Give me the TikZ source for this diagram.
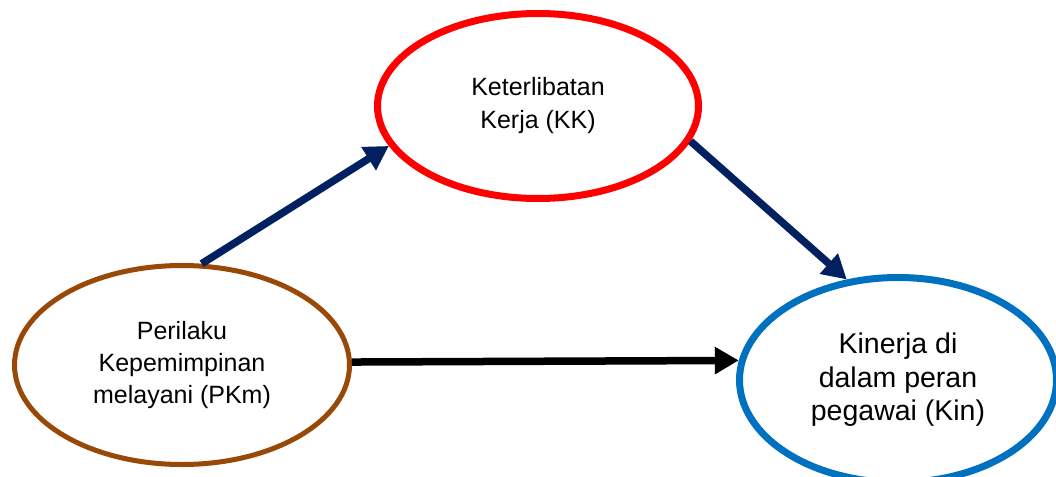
\documentclass[tikz,border=0pt]{standalone}
\usepackage{fontspec}
\setmainfont{Liberation Sans}
\usetikzlibrary{shapes.geometric,arrows.meta}
\definecolor{cbrown}{HTML}{984807}
\definecolor{cred}{HTML}{FF0000}
\definecolor{cblue}{HTML}{0070C0}
\definecolor{cnavy}{HTML}{002060}
\tikzset{
  oval/.style={ellipse, draw, fill=white, inner sep=0pt, align=center, text=black},
  conn/.style={line width=7.5pt, -{Triangle[width=26pt,length=24pt]}},
}
\begin{document}
\begin{tikzpicture}[x=1pt,y=-1pt]
\useasboundingbox (0,0) rectangle (1056,476);
\node[oval, draw=cbrown, line width=5pt, minimum width=335pt, minimum height=199pt,
      font=\fontsize{25}{32}\selectfont] (pkm) at (182,365)
  {Perilaku\\Kepemimpinan\\melayani (PKm)};
\node[oval, draw=cred, line width=7pt, minimum width=321pt, minimum height=185pt,
      font=\fontsize{25}{33}\selectfont] (kk) at (538,106)
  {Keterlibatan\\Kerja (KK)};
\node[oval, draw=cblue, line width=7pt, minimum width=317pt, minimum height=205pt,
      font=\fontsize{28.5}{33.5}\selectfont] (kin) at (898,380)
  {Kinerja di\\dalam peran\\pegawai (Kin)};
\draw[conn, cnavy] (pkm.79) -- (kk.195);
\draw[conn, cnavy] (kk.-13) -- (kin.117);
\draw[conn, black] (pkm.1) -- (kin.173);
\end{tikzpicture}
\end{document}
